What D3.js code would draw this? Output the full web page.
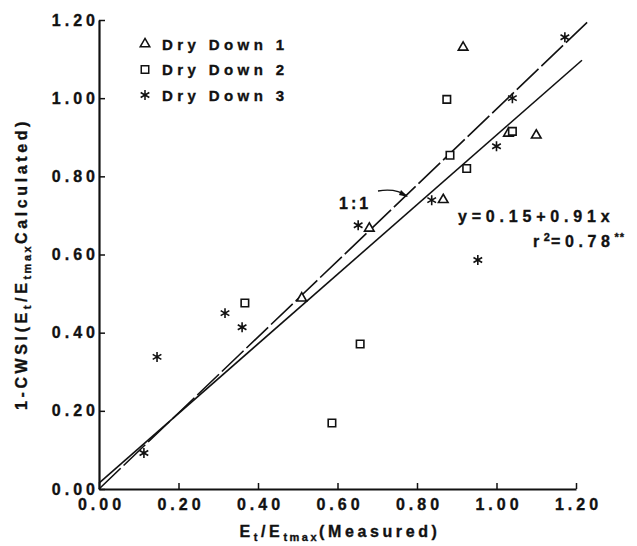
<!DOCTYPE html>
<html>
<head>
<meta charset="utf-8">
<script src="https://cdn.jsdelivr.net/npm/d3@7"></script>
<style>
  body { margin: 0; background: #fff; }
  text { font-family: "Liberation Sans", Arial, sans-serif; font-weight: bold; fill: #111; stroke: #111; stroke-width: 0.35px; }
</style>
</head>
<body>
<div id="chart"></div>
<script>
// Data
const xTicks = [0, 0.2, 0.4, 0.6, 0.8, 1.0, 1.2];
const yTicks = [0, 0.2, 0.4, 0.6, 0.8, 1.0, 1.2];

const dryDown1 = [[0.916, 1.13], [1.10, 0.905], [1.03, 0.91], [0.866, 0.74], [0.68, 0.667], [0.51, 0.488]];
const dryDown2 = [[0.875, 0.997], [0.883, 0.854], [0.925, 0.82], [1.04, 0.915], [0.367, 0.476], [0.657, 0.371], [0.586, 0.169]];
const dryDown3 = [[1.172, 1.156], [1.04, 1.0], [1.0, 0.877], [0.837, 0.739], [0.652, 0.675], [0.953, 0.586],
                  [0.317, 0.450], [0.36, 0.414], [0.146, 0.338], [0.113, 0.092]];

const oneToOne = [[0, 0], [1.228, 1.194]];
const fitLine = [[0, 0.015], [1.215, 1.097]];

const legendLabels = ["Dry Down 1", "Dry Down 2", "Dry Down 3"];

const width = 637, height = 546;

const svg = d3.select('#chart').append('svg')
    .attr('width', width)
    .attr('height', height);

const x = d3.scaleLinear().domain([0, 1.2]).range([99, 576]);
const y = d3.scaleLinear().domain([0, 1.2]).range([489, 20]);

// Axes (ticks point inward)
const xAxis = svg.append('g')
    .attr('transform', `translate(0,${y(0)})`)
    .call(d3.axisBottom(x).tickValues(xTicks).tickFormat(d3.format('.2f'))
        .tickSize(-6).tickSizeOuter(0).tickPadding(10));

const yAxis = svg.append('g')
    .attr('transform', `translate(${x(0)},0)`)
    .call(d3.axisLeft(y).tickValues(yTicks).tickFormat(d3.format('.2f'))
        .tickSize(-6).tickSizeOuter(0).tickPadding(0));

[xAxis, yAxis].forEach(a => {
    a.select('.domain').attr('stroke', '#111').attr('stroke-width', 2.2);
    a.selectAll('.tick line').attr('stroke', '#111').attr('stroke-width', 1.5);
    a.selectAll('.tick text')
        .style('font-size', '16px')
        .style('letter-spacing', '4px')
        .attr('fill', '#111');
});
xAxis.selectAll('.tick text').attr('dx', 2);

// Lines
const line = d3.line().x(d => x(d[0])).y(d => y(d[1]));

svg.append('path')
    .datum(oneToOne)
    .attr('d', line)
    .attr('fill', 'none')
    .attr('stroke', '#111')
    .attr('stroke-width', 1.6)
    .attr('stroke-dasharray', '30,4');

svg.append('path')
    .datum(fitLine)
    .attr('d', line)
    .attr('fill', 'none')
    .attr('stroke', '#111')
    .attr('stroke-width', 1.6);

// Symbols
const tri = d3.symbol().type(d3.symbolTriangle).size(40);
const sq = d3.symbol().type(d3.symbolSquare).size(56);
const star = d3.symbol().type(d3.symbolAsterisk).size(70);

function drawPoints(data, sym, filled) {
    svg.append('g')
        .selectAll('path')
        .data(data)
        .join('path')
        .attr('transform', d => `translate(${x(d[0])},${y(d[1])})`)
        .attr('d', sym)
        .attr('fill', filled ? '#111' : '#fff')
        .attr('stroke', '#111')
        .attr('stroke-width', filled ? 1.6 : 1.6);
}

drawPoints(dryDown1, tri, false);
drawPoints(dryDown2, sq, false);
drawPoints(dryDown3, star, true);

// Legend
const legendSyms = [tri, sq, star];
const legend = svg.append('g');
legendLabels.forEach((lab, i) => {
    const ly = 44 + i * 25.5;
    legend.append('path')
        .attr('transform', `translate(145,${ly})`)
        .attr('d', legendSyms[i])
        .attr('fill', i === 2 ? '#111' : '#fff')
        .attr('stroke', '#111')
        .attr('stroke-width', 1.5);
    legend.append('text')
        .attr('x', 162)
        .attr('y', ly + 5.5)
        .style('font-size', '15px')
        .style('letter-spacing', '4.4px')
        .text(lab);
});

// Annotations
svg.append('text')
    .attr('x', 339)
    .attr('y', 209)
    .style('font-size', '16px')
    .style('letter-spacing', '3px')
    .text('1:1');

svg.append('path')
    .attr('d', 'M378,191 Q396,188 407,196')
    .attr('fill', 'none')
    .attr('stroke', '#111')
    .attr('stroke-width', 1.3);
svg.append('path')
    .attr('d', 'M401,190 L408,197 L399,195 Z')
    .attr('fill', '#111');

svg.append('text')
    .attr('x', 458)
    .attr('y', 222)
    .style('font-size', '16px')
    .style('letter-spacing', '4.8px')
    .text('y=0.15+0.91x');

const r2 = svg.append('text')
    .attr('x', 533)
    .attr('y', 247)
    .style('font-size', '16px')
    .style('letter-spacing', '4.6px');
r2.append('tspan').text('r');
r2.append('tspan').attr('dy', -6).style('font-size', '11px').style('letter-spacing', '1px').text('2');
r2.append('tspan').attr('dy', 6).text('=0.78');
r2.append('tspan').attr('dy', -6).style('font-size', '11px').style('letter-spacing', '1px').text('**');

// Axis titles
const xt = svg.append('text')
    .attr('x', 340)
    .attr('y', 537)
    .attr('text-anchor', 'middle')
    .style('font-size', '16px')
    .style('letter-spacing', '3.6px');
xt.append('tspan').text('E');
xt.append('tspan').attr('dy', 4).style('font-size', '11px').text('t');
xt.append('tspan').attr('dy', -4).text('/E');
xt.append('tspan').attr('dy', 4).style('font-size', '11px').style('letter-spacing', '2.5px').text('tmax');
xt.append('tspan').attr('dy', -4).text('(Measured)');

const yt = svg.append('text')
    .attr('transform', 'translate(27,264) rotate(-90)')
    .attr('text-anchor', 'middle')
    .style('font-size', '16px')
    .style('letter-spacing', '3.6px');
yt.append('tspan').text('1-CWSI(E');
yt.append('tspan').attr('dy', 4).style('font-size', '11px').text('t');
yt.append('tspan').attr('dy', -4).text('/E');
yt.append('tspan').attr('dy', 4).style('font-size', '11px').style('letter-spacing', '2.5px').text('tmax');
yt.append('tspan').attr('dy', -4).text('Calculated)');
</script>
</body>
</html>
